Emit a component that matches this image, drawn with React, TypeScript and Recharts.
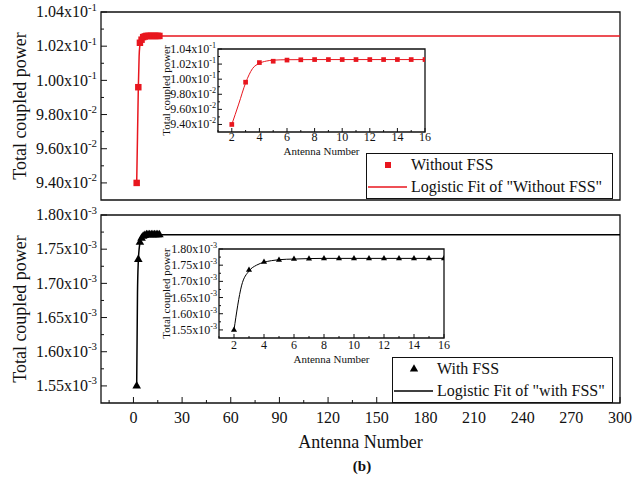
import React from 'react';
import { ComposedChart, Line, Scatter, XAxis, YAxis, Legend, ReferenceArea, Symbols } from 'recharts';

const FONT = "'Liberation Serif', 'DejaVu Serif', serif";
const RED = '#e8161e';
const INK = '#111111';

// simulated antenna counts and total coupled power
const antennaNumbers = [2, 3, 4, 5, 6, 7, 8, 9, 10, 11, 12, 13, 14, 15, 16];
const withoutFssPower = [0.094, 0.0996, 0.1022, 0.10238, 0.10253, 0.10257, 0.1026, 0.1026, 0.1026, 0.1026, 0.1026, 0.1026, 0.1026, 0.1026, 0.1026];
const withFssPower = [0.00155, 0.001735, 0.00176, 0.001766, 0.001769, 0.00177, 0.001771, 0.001771, 0.001771, 0.001771, 0.001771, 0.001771, 0.001771, 0.001771, 0.001771];

// logistic fit curves
const fitAntenna = [2, 2.5, 3, 3.5, 4, 4.5, 5, 6, 8, 16, 300];
const fitWithoutFss = [0.094, 0.0967, 0.0995, 0.1014, 0.1021, 0.1024, 0.10252, 0.10258, 0.1026, 0.1026, 0.1026];
const fitWithFss = [0.00155, 0.001686, 0.001732, 0.00175, 0.001759, 0.001764, 0.001767, 0.001769, 0.001771, 0.001771, 0.001771];

// axes
const mainXDomain: [number, number] = [-20, 300];
const mainXTicks = [-15, 0, 15, 30, 45, 60, 75, 90, 105, 120, 135, 150, 165, 180, 195, 210, 225, 240, 255, 270, 285, 300];
const mainXLabels = [0, 30, 60, 90, 120, 150, 180, 210, 240, 270, 300];
const insetXDomain: [number, number] = [1, 16];
const insetXTicks = [1, 2, 3, 4, 5, 6, 7, 8, 9, 10, 11, 12, 13, 14, 15, 16];
const insetXLabels = [2, 4, 6, 8, 10, 12, 14, 16];

const upperYDomain: [number, number] = [0.093, 0.104];
const upperYTicks = [0.094, 0.095, 0.096, 0.097, 0.098, 0.099, 0.1, 0.101, 0.102, 0.103, 0.104];
const upperYLabels = [0.094, 0.096, 0.098, 0.1, 0.102, 0.104];
const lowerYDomain: [number, number] = [0.001525, 0.0018];
const lowerYTicks = [0.00155, 0.001575, 0.0016, 0.001625, 0.00165, 0.001675, 0.0017, 0.001725, 0.00175, 0.001775, 0.0018];
const lowerYLabels = [0.00155, 0.0016, 0.00165, 0.0017, 0.00175, 0.0018];

type Pt = { x: number; y: number };
const pair = (xs: number[], ys: number[]): Pt[] => xs.map((x, i) => ({ x, y: ys[i] }));
const has = (list: number[], v: number) => list.some((t) => Math.abs(t - v) < 1e-10);

const textStyle = { fontFamily: FONT };

const renderYTick = (labels: number[], len: number, size: number, gap: number) => (p: any) => {
  const v = p.payload.value;
  const major = has(labels, v);
  const exp = Math.floor(Math.log10(v) + 1e-9);
  const mant = (v / Math.pow(10, exp)).toFixed(2);
  return (
    <g>
      <line x1={p.x} x2={p.x + (major ? len : len / 2)} y1={p.y} y2={p.y} stroke={INK} />
      {major && (
        <text x={p.x - gap} y={p.y + size * 0.33} textAnchor="end" style={textStyle} fontSize={size} fill={INK}>
          {mant}x10<tspan dy={-size * 0.42} fontSize={size * 0.68}>{exp}</tspan>
        </text>
      )}
    </g>
  );
};

const renderXTick = (labels: number[], len: number, size: number, gap: number, show: boolean) => (p: any) => {
  const v = p.payload.value;
  const major = has(labels, v);
  return (
    <g>
      <line x1={p.x} x2={p.x} y1={p.y} y2={p.y - (major ? len : len / 2)} stroke={INK} />
      {show && major && (
        <text x={p.x} y={p.y + gap} textAnchor="middle" style={textStyle} fontSize={size} fill={INK}>
          {v}
        </text>
      )}
    </g>
  );
};

const YTitle = ({ viewBox, text, dx, size }: any) => {
  const x = viewBox.x + dx;
  const y = viewBox.y + viewBox.height / 2;
  return (
    <text x={x} y={y} transform={`rotate(-90 ${x} ${y})`} textAnchor="middle" dominantBaseline="central" style={textStyle} fontSize={size} fill={INK}>
      {text}
    </text>
  );
};

const XTitle = ({ viewBox, text, dy, size }: any) => (
  <text x={viewBox.x + viewBox.width / 2} y={viewBox.y + dy} textAnchor="middle" style={textStyle} fontSize={size} fill={INK}>
    {text}
  </text>
);

const LegendBox = ({ payload, markerArea }: any) => {
  const rows = [...(payload || [])].sort((a: any, b: any) => (a.type === 'line' ? 1 : 0) - (b.type === 'line' ? 1 : 0));
  return (
    <div style={{ width: '100%', height: '100%', boxSizing: 'border-box', border: `1px solid ${INK}`, background: '#fff', fontFamily: FONT, fontSize: 16, color: INK }}>
      {rows.map((entry: any) => (
        <div key={entry.value} style={{ display: 'flex', alignItems: 'center', height: 22 }}>
          <svg width={44} height={22} style={{ flex: 'none' }}>
            {entry.type === 'line' ? (
              <line x1={1} x2={40} y1={11} y2={11} stroke={entry.color} strokeWidth={1.5} />
            ) : (
              <Symbols cx={21} cy={11} type={entry.type} size={markerArea} fill={entry.color} />
            )}
          </svg>
          <span style={{ whiteSpace: 'nowrap' }}>{entry.value}</span>
        </div>
      ))}
    </div>
  );
};

type PanelProps = {
  left: number; top: number; width: number; height: number;
  margin: { top: number; right: number; bottom: number; left: number };
  points: Pt[]; fit: Pt[]; color: string; marker: 'square' | 'triangle'; markerArea: number; fitWidth: number;
  pointName: string; fitName: string; legendBox?: React.CSSProperties; legendMarkerArea?: number;
  xDomain: [number, number]; xTicks: number[]; xLabels: number[]; xAxisHeight: number; showXLabels: boolean;
  xLabelGap: number; xTitle?: string; xTitleGap: number;
  yDomain: [number, number]; yTicks: number[]; yLabels: number[]; yAxisWidth: number; yTitleX: number; yLabelGap: number;
  tickLen: number; tickFont: number; titleFont: number;
};

const PowerPanel = (p: PanelProps) => (
  <div style={{ position: 'absolute', left: p.left, top: p.top }}>
    <ComposedChart width={p.width} height={p.height} margin={p.margin} style={{ fontFamily: FONT }}>
      <XAxis
        type="number"
        dataKey="x"
        domain={p.xDomain}
        ticks={p.xTicks}
        allowDataOverflow
        interval={0}
        height={p.xAxisHeight}
        axisLine={false}
        tickLine={false}
        tickSize={0}
        tickMargin={0}
        tick={renderXTick(p.xLabels, p.tickLen, p.tickFont, p.xLabelGap, p.showXLabels)}
        label={p.xTitle ? <XTitle text={p.xTitle} dy={p.xTitleGap} size={p.titleFont} /> : undefined}
      />
      <YAxis
        type="number"
        dataKey="y"
        domain={p.yDomain}
        ticks={p.yTicks}
        allowDataOverflow
        interval={0}
        width={p.yAxisWidth}
        axisLine={false}
        tickLine={false}
        tickSize={0}
        tickMargin={0}
        tick={renderYTick(p.yLabels, p.tickLen, p.tickFont, p.yLabelGap)}
        label={<YTitle text="Total coupled power" dx={p.yTitleX} size={p.titleFont} />}
      />
      <ReferenceArea
        x1={p.xDomain[0]}
        x2={p.xDomain[1]}
        y1={p.yDomain[0]}
        y2={p.yDomain[1]}
        fill="#ffffff"
        fillOpacity={0}
        stroke={INK}
        strokeWidth={1.3}
        ifOverflow="visible"
      />
      <Line
        data={p.fit}
        dataKey="y"
        name={p.fitName}
        type="monotone"
        stroke={p.color}
        strokeWidth={p.fitWidth}
        dot={false}
        legendType="line"
        isAnimationActive={false}
      />
      <Scatter
        data={p.points}
        dataKey="y"
        name={p.pointName}
        fill={p.color}
        legendType={p.marker}
        isAnimationActive={false}
        shape={(s: any) => <Symbols cx={s.cx} cy={s.cy} type={p.marker} size={p.markerArea} fill={p.color} />}
      />
      {p.legendBox && (
        <Legend
          layout="horizontal"
          verticalAlign="middle"
          align="center"
          wrapperStyle={p.legendBox}
          content={<LegendBox markerArea={p.legendMarkerArea} />}
        />
      )}
    </ComposedChart>
  </div>
);

const upperPoints = pair(antennaNumbers, withoutFssPower);
const upperFit = pair(fitAntenna, fitWithoutFss);
const lowerPoints = pair(antennaNumbers, withFssPower);
const lowerFit = pair(fitAntenna, fitWithFss);

export default function App() {
  return (
    <div style={{ position: 'absolute', left: 0, top: 0, width: 644, height: 486, background: '#fff', fontFamily: FONT }}>
      <PowerPanel
        left={0} top={0} width={644} height={215}
        margin={{ top: 12, right: 24, bottom: 15, left: 0 }}
        points={upperPoints} fit={upperFit} color={RED} marker="square" markerArea={42} fitWidth={1.5}
        pointName="Without FSS" fitName={'Logistic Fit of "Without FSS"'}
        legendBox={{ left: 366, top: 153, width: 247, height: 46 }} legendMarkerArea={36}
        xDomain={mainXDomain} xTicks={mainXTicks} xLabels={mainXLabels} xAxisHeight={0} showXLabels={false}
        xLabelGap={20} xTitleGap={45}
        yDomain={upperYDomain} yTicks={upperYTicks} yLabels={upperYLabels} yAxisWidth={101} yTitleX={20} yLabelGap={4}
        tickLen={6} tickFont={16} titleFont={18}
      />
      <PowerPanel
        left={0} top={205} width={644} height={250}
        margin={{ top: 10, right: 24, bottom: 2, left: 0 }}
        points={lowerPoints} fit={lowerFit} color="#000000" marker="triangle" markerArea={32} fitWidth={1.5}
        pointName="With FSS" fitName={'Logistic Fit of "with FSS"'}
        legendBox={{ left: 392, top: 152, width: 221, height: 46 }} legendMarkerArea={30}
        xDomain={mainXDomain} xTicks={mainXTicks} xLabels={mainXLabels} xAxisHeight={50} showXLabels
        xLabelGap={20} xTitle="Antenna Number" xTitleGap={45}
        yDomain={lowerYDomain} yTicks={lowerYTicks} yLabels={lowerYLabels} yAxisWidth={101} yTitleX={20} yLabelGap={4}
        tickLen={6} tickFont={16} titleFont={18}
      />
      <PowerPanel
        left={140} top={40} width={300} height={125}
        margin={{ top: 9, right: 15, bottom: 3, left: 0 }}
        points={upperPoints} fit={upperFit} color={RED} marker="square" markerArea={22} fitWidth={1}
        pointName="Without FSS" fitName={'Logistic Fit of "Without FSS"'}
        xDomain={insetXDomain} xTicks={insetXTicks} xLabels={insetXLabels} xAxisHeight={30} showXLabels
        xLabelGap={9} xTitle="Antenna Number" xTitleGap={23}
        yDomain={upperYDomain} yTicks={upperYTicks} yLabels={upperYLabels} yAxisWidth={78} yTitleX={26} yLabelGap={2}
        tickLen={4} tickFont={12} titleFont={11}
      />
      <PowerPanel
        left={140} top={240} width={320} height={131}
        margin={{ top: 9, right: 16, bottom: 3, left: 0 }}
        points={lowerPoints} fit={lowerFit} color="#000000" marker="triangle" markerArea={16} fitWidth={1}
        pointName="With FSS" fitName={'Logistic Fit of "with FSS"'}
        xDomain={insetXDomain} xTicks={insetXTicks} xLabels={insetXLabels} xAxisHeight={30} showXLabels
        xLabelGap={11} xTitle="Antenna Number" xTitleGap={25}
        yDomain={lowerYDomain} yTicks={lowerYTicks} yLabels={lowerYLabels} yAxisWidth={79} yTitleX={26} yLabelGap={2}
        tickLen={4} tickFont={12} titleFont={11}
      />
      <div style={{ position: 'absolute', left: 322, top: 458, width: 80, textAlign: 'center', fontWeight: 'bold', fontSize: 15, color: INK }}>
        (b)
      </div>
    </div>
  );
}
